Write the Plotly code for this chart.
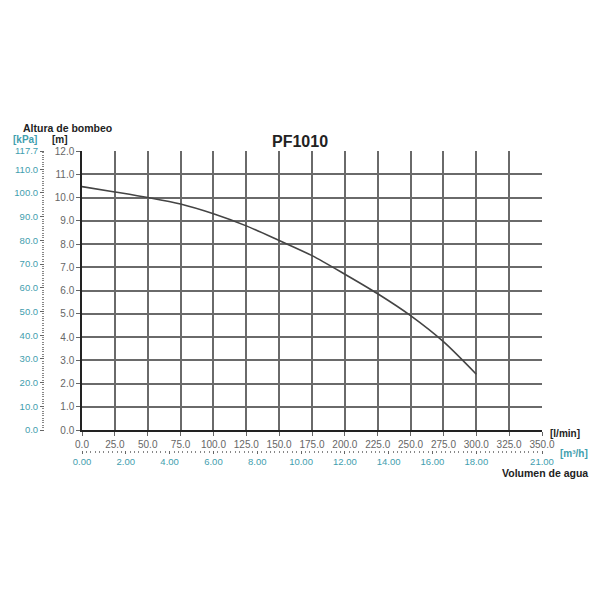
import plotly.graph_objects as go

# Data
flow_lmin = [0, 25, 50, 75, 100, 125, 150, 175, 200, 225, 250, 275, 300]
head_m = [10.47, 10.24, 10.0, 9.72, 9.3, 8.78, 8.15, 7.5, 6.7, 5.86, 4.92, 3.8, 2.4]

x_ticks = [0, 25, 50, 75, 100, 125, 150, 175, 200, 225, 250, 275, 300, 325, 350]
y_ticks = [0, 1, 2, 3, 4, 5, 6, 7, 8, 9, 10, 11, 12]
kpa_ticks = [0, 10, 20, 30, 40, 50, 60, 70, 80, 90, 100, 110, 117.7]
m3h_ticks = [0, 2, 4, 6, 8, 10, 12, 14, 16, 18, 21]

TEAL = "#3f9eae"
GRAY = "#666666"
DARK = "#222222"
GRID = "#6a6a6a"
FONT = "Liberation Sans, Arial, sans-serif"

W = H = 592   # page body has an 8px margin
OFF = 8


def px(x):
    return (x - OFF) / W


def py(y):
    return 1 - (y - OFF) / H


fig = go.Figure()
fig.add_trace(go.Scatter(
    x=flow_lmin, y=head_m, mode="lines",
    line=dict(color="#444444", width=1.6, shape="spline", smoothing=0.8),
    showlegend=False, hoverinfo="skip"))
# invisible companion trace on the secondary (unit-converted) axes
fig.add_trace(go.Scatter(
    x=[f * 0.06 for f in flow_lmin], y=[h * 9.81 for h in head_m],
    xaxis="x2", yaxis="y2", mode="lines", line=dict(color="rgba(0,0,0,0)"),
    showlegend=False, hoverinfo="skip"))

fig.update_layout(
    width=W, height=H,
    margin=dict(l=0, r=0, t=0, b=0),
    paper_bgcolor="white", plot_bgcolor="white",
    font=dict(family=FONT, size=10, color=GRAY),
    xaxis=dict(
        domain=[px(82), px(542)], range=[0, 350], tickvals=x_ticks, automargin=False,
        ticktext=[f"{v:.1f}" for v in x_ticks],
        showgrid=True, gridcolor=GRID, gridwidth=1.5,
        showline=True, linecolor=DARK, linewidth=1.5, mirror=False,
        ticks="outside", ticklen=4, tickcolor=GRAY, tickwidth=1,
        tickfont=dict(size=10, color=GRAY), zeroline=False, fixedrange=True),
    yaxis=dict(
        domain=[py(430), py(151)], range=[0, 12], tickvals=y_ticks, automargin=False,
        ticktext=[f"{v:.1f}" for v in y_ticks],
        showgrid=True, gridcolor=GRID, gridwidth=1.5,
        showline=True, linecolor=DARK, linewidth=1.5,
        ticks="outside", ticklen=4, tickcolor=GRAY, tickwidth=1,
        tickfont=dict(size=10, color=GRAY), zeroline=False, fixedrange=True),
    yaxis2=dict(
        overlaying="y", anchor="free", position=px(44), side="left", automargin=False,
        range=[0, 117.7], tickvals=kpa_ticks,
        ticktext=[f"{v:.1f}" for v in kpa_ticks],
        showgrid=False, showline=False, zeroline=False,
        ticks="outside", ticklen=4, tickcolor=GRAY, tickwidth=1,
        minor=dict(dtick=1, ticklen=2, tickcolor="#888888", tickwidth=1, ticks="outside"),
        tickfont=dict(size=9.5, color=TEAL), fixedrange=True),
    xaxis2=dict(
        overlaying="x", anchor="free", position=py(450), side="bottom", automargin=False,
        range=[0, 21], tickvals=m3h_ticks,
        ticktext=[f"{v:.2f}" for v in m3h_ticks],
        showgrid=False, showline=False, zeroline=False,
        ticks="outside", ticklen=3, tickcolor=GRAY, tickwidth=1,
        minor=dict(dtick=0.2, ticklen=2, tickcolor="#888888", tickwidth=1, ticks="outside"),
        tickfont=dict(size=9.5, color=TEAL), fixedrange=True),
    annotations=[
        dict(text="<b>PF1010</b>", x=px(300), y=py(131), xref="paper", yref="paper",
             showarrow=False, font=dict(size=16, color=DARK, family=FONT)),
        dict(text="<b>Altura de bombeo</b>", x=px(21), y=py(120), xref="paper", yref="paper",
             xanchor="left", showarrow=False, font=dict(size=10.5, color=DARK, family=FONT)),
        dict(text="<b>[kPa]</b>", x=px(11), y=py(132), xref="paper", yref="paper",
             xanchor="left", showarrow=False, font=dict(size=10, color=TEAL, family=FONT)),
        dict(text="<b>[m]</b>", x=px(50), y=py(132), xref="paper", yref="paper",
             xanchor="left", showarrow=False, font=dict(size=10, color=DARK, family=FONT)),
        dict(text="<b>[l/min]</b>", x=px(548), y=py(441), xref="paper", yref="paper",
             xanchor="left", showarrow=False, font=dict(size=10, color=DARK, family=FONT)),
        dict(text="<b>[m³/h]</b>", x=px(558), y=py(461), xref="paper", yref="paper",
             xanchor="left", showarrow=False, font=dict(size=10, color=TEAL, family=FONT)),
        dict(text="<b>Volumen de agua</b>", x=px(590), y=py(481), xref="paper", yref="paper",
             xanchor="right", showarrow=False, font=dict(size=10.5, color=DARK, family=FONT)),
    ],
)

fig.write_html("out.html")
